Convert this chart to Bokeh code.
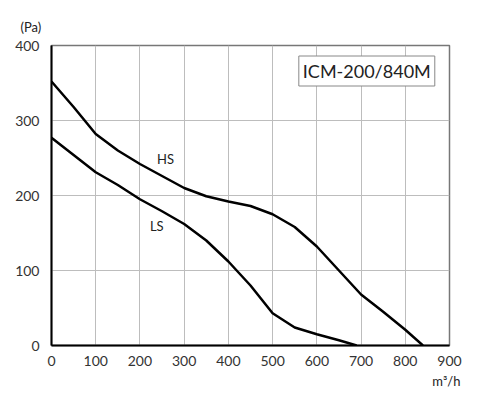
from bokeh.plotting import figure
from bokeh.models import Range1d, Label, FixedTicker, Title
from bokeh.embed import file_html
from bokeh.resources import INLINE

hs_flow = [0, 50, 100, 150, 200, 250, 300, 350, 400, 450, 500, 550, 600, 650, 700, 750, 800, 840]
hs_pa = [352, 318, 282, 260, 242, 226, 210, 199, 192, 186, 175, 158, 132, 100, 68, 45, 21, 0]
ls_flow = [0, 50, 100, 150, 200, 250, 300, 350, 400, 450, 500, 550, 600, 650, 690]
ls_pa = [277, 254, 231, 214, 195, 179, 162, 140, 112, 80, 43, 24, 15, 7, 0]
x_ticks = [0, 100, 200, 300, 400, 500, 600, 700, 800, 900]
y_ticks = [0, 100, 200, 300, 400]
model_name = "ICM-200/840M"

FONT = "Lato"
p = figure(width=480, height=390, output_backend="svg", toolbar_location=None,
           x_range=Range1d(0, 900), y_range=Range1d(0, 400),
           min_border_left=51, min_border_right=31, min_border_top=45, min_border_bottom=45)
p.outline_line_color = "#777777"
p.outline_line_width = 1.5
for ax in (p.xaxis, p.yaxis):
    ax.axis_line_color = "black"
    ax.axis_line_width = 2
    ax.major_tick_line_color = None
    ax.minor_tick_line_color = None
    ax.major_label_text_font = FONT
    ax.major_label_text_font_size = "14px"
    ax.major_label_text_color = "#333333"
p.xaxis.ticker = FixedTicker(ticks=x_ticks)
p.yaxis.ticker = FixedTicker(ticks=y_ticks)
p.xaxis.major_label_standoff = 4
p.yaxis.major_label_standoff = 6
p.xgrid.ticker = FixedTicker(ticks=x_ticks)
p.ygrid.ticker = FixedTicker(ticks=y_ticks)
p.grid.grid_line_color = "#bdbdbd"
p.grid.grid_line_width = 1

p.line(hs_flow, hs_pa, line_color="black", line_width=2.5)
p.line(ls_flow, ls_pa, line_color="black", line_width=2.5)

p.add_layout(Label(x=258, y=249, text="HS", text_font=FONT, text_font_size="13px",
                   text_align="center", text_baseline="middle", text_color="#222222"))
p.add_layout(Label(x=238, y=159, text="LS", text_font=FONT, text_font_size="13px",
                   text_align="center", text_baseline="middle", text_color="#222222"))
p.add_layout(Label(x=713, y=366, text=model_name, text_font=FONT, text_font_size="18px",
                   text_align="center", text_baseline="middle", text_color="#222222",
                   background_fill_color="white", border_line_color="#888888",
                   border_line_width=1, padding=4))
p.add_layout(Title(text="(Pa)", align="left", offset=-31, standoff=22, text_font=FONT,
                   text_font_size="13px", text_font_style="normal", text_color="#222222"), "above")
p.add_layout(Title(text="m³/h", align="right", offset=-11, standoff=4, text_font=FONT,
                   text_font_size="13px", text_font_style="normal", text_color="#222222"), "below")

open("out.html", "w").write(file_html(p, INLINE))
